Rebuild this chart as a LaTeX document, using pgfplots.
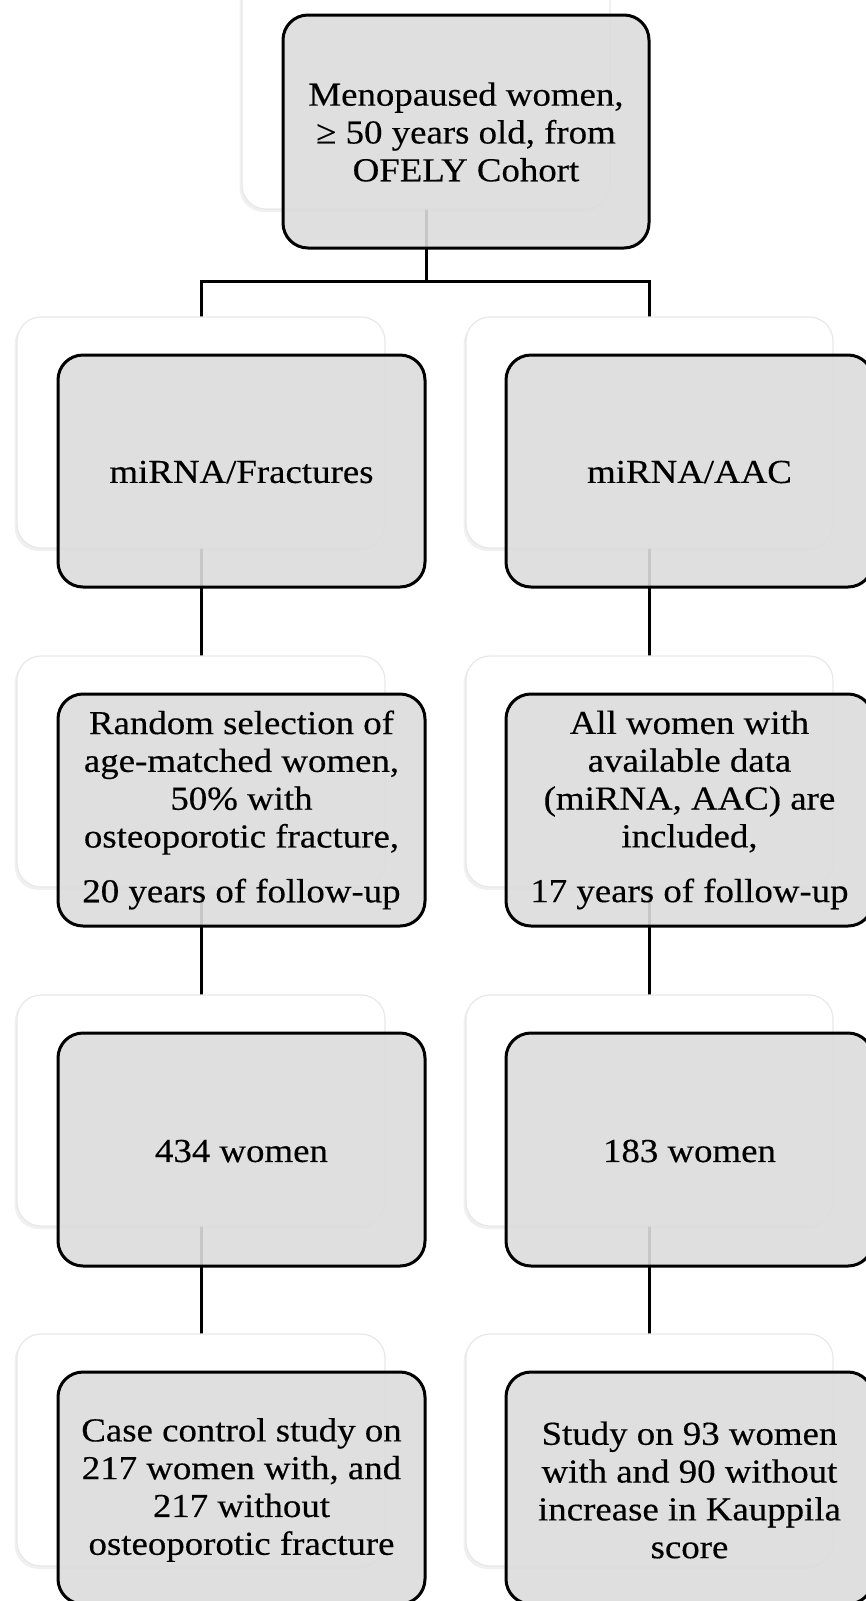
\documentclass[border=0pt]{standalone}
\usepackage{fontspec}
\setmainfont{Liberation Serif}[FakeStretch=1.1, FakeBold=0.35]
\usepackage{pgfplots}
\pgfplotsset{compat=1.18}
\usetikzlibrary{shadows}
\definecolor{boxgray}{gray}{0.864}
\tikzset{
  shadowbox/.style={draw=black!9, line width=0.6pt, fill=white, rounded corners=12pt,
     drop shadow={shadow xshift=-1.2pt, shadow yshift=-1.5pt, opacity=0.12}},
  mainbox/.style={draw=black, line width=1.5pt, fill=boxgray, fill opacity=0.9, rounded corners=12.5pt},
  lbl/.style={align=center, inner sep=0pt, font=\fontsize{16.75pt}{18.9pt}\selectfont, text=black}}
\begin{document}
\begin{tikzpicture}
\path[use as bounding box] (0,0) rectangle (433pt,800.5pt);
\clip (0,0) rectangle (433pt,800.5pt);
\begin{axis}[at={(0,0)}, anchor=south west, scale only axis,
  width=433pt, height=800.5pt,
  xmin=0, xmax=866, ymin=0, ymax=1601, y dir=reverse,
  hide axis, clip=false]
% connectors
\addplot[black, line width=1.5pt, no marks] coordinates {(426,100) (426,281)};
\addplot[black, line width=1.5pt, no marks] coordinates {(201,1450) (201,281) (649,281) (649,1450)};
% top
\draw[shadowbox] (axis cs:242,-23) rectangle (axis cs:610,209);
\draw[mainbox] (axis cs:283,15) rectangle (axis cs:649,248);
\node[lbl] at (axis cs:466,132) {Menopaused women,\\≥ 50 years old, from\\OFELY Cohort};
% row 2
\draw[shadowbox] (axis cs:17,317) rectangle (axis cs:385,548);
\draw[mainbox] (axis cs:58,355) rectangle (axis cs:425,587);
\draw[shadowbox] (axis cs:466,317) rectangle (axis cs:833,548);
\draw[mainbox] (axis cs:506,355) rectangle (axis cs:873,587);
\node[lbl] at (axis cs:241.5,472) {miRNA/Fractures};
\node[lbl] at (axis cs:689.5,472) {miRNA/AAC};
% row 3
\draw[shadowbox] (axis cs:17,656) rectangle (axis cs:385,887);
\draw[mainbox] (axis cs:58,694) rectangle (axis cs:425,926);
\draw[shadowbox] (axis cs:466,656) rectangle (axis cs:833,887);
\draw[mainbox] (axis cs:506,694) rectangle (axis cs:873,926);
\node[lbl] at (axis cs:241.5,810) {Random selection of\\age-matched women,\\50\% with\\osteoporotic fracture,\\[8.5pt]20 years of follow-up};
\node[lbl] at (axis cs:689.5,810) {All women with\\available data\\(miRNA, AAC) are\\included,\\[8.5pt]17 years of follow-up};
% row 4
\draw[shadowbox] (axis cs:17,995) rectangle (axis cs:385,1226);
\draw[mainbox] (axis cs:58,1033) rectangle (axis cs:425,1266);
\draw[shadowbox] (axis cs:466,995) rectangle (axis cs:833,1226);
\draw[mainbox] (axis cs:506,1033) rectangle (axis cs:873,1266);
\node[lbl] at (axis cs:241.5,1151) {434 women};
\node[lbl] at (axis cs:689.5,1151) {183 women};
% row 5
\draw[shadowbox] (axis cs:17,1334) rectangle (axis cs:385,1566);
\draw[mainbox] (axis cs:58,1372) rectangle (axis cs:425,1604);
\draw[shadowbox] (axis cs:466,1334) rectangle (axis cs:833,1566);
\draw[mainbox] (axis cs:506,1372) rectangle (axis cs:873,1604);
\node[lbl] at (axis cs:241.5,1490) {Case control study on\\217 women with, and\\217 without\\osteoporotic fracture};
\node[lbl] at (axis cs:689.5,1490) {Study on 93 women\\with and 90 without\\increase in Kauppila\\score};
\end{axis}
\end{tikzpicture}
\end{document}
